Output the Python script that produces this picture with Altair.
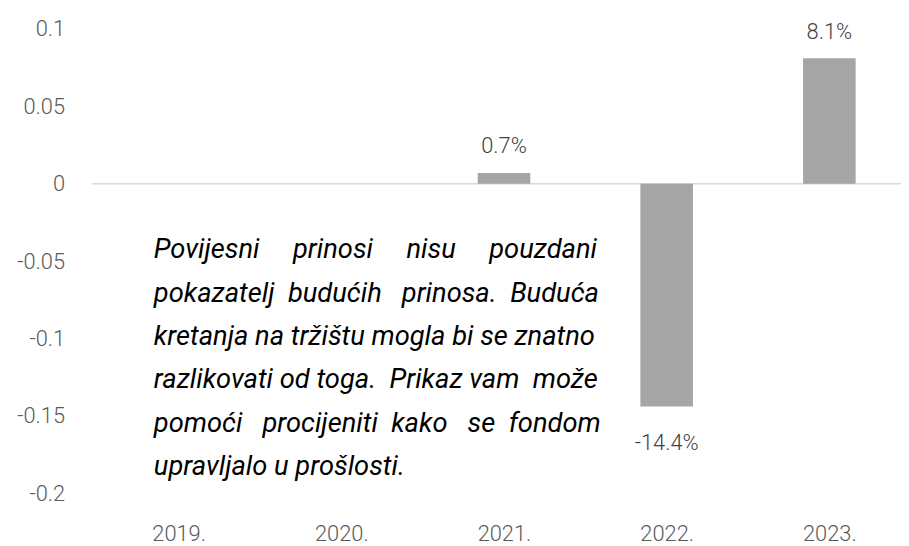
import json
import altair as alt
import pandas as pd

years = ["2019.", "2020.", "2021.", "2022.", "2023."]
returns = [None, None, 0.007, -0.144, 0.081]
y_ticks = [-0.2, -0.15, -0.1, -0.05, 0, 0.05, 0.1]
NB = "\u00a0"
note_lines = [
    "Povijesni" + NB * 4 + " prinosi" + NB * 4 + " nisu" + NB * 4 + " pouzdani",
    "pokazatelj" + NB + " budućih" + NB * 2 + " prinosa." + NB + " Buduća",
    "kretanja na tržištu mogla bi se znatno",
    "razlikovati od toga." + NB + " Prikaz vam" + NB + " može",
    "pomoći" + NB * 2 + " procijeniti" + NB + " kako" + NB * 2 + " se" + NB + " fondom",
    "upravljalo u prošlosti.",
]

FONT = "Roboto"
df = pd.DataFrame({"year": years, "idx": list(range(len(years))), "ret": returns})

x_scale = alt.Scale(domain=[-0.5, 4.41], nice=False, zero=False)
x_enc = alt.X(
    "idx:Q",
    scale=x_scale,
    axis=alt.Axis(title=None, values=list(range(len(years))), grid=False,
                  labelAngle=0, domain=False, ticks=False,
                  labelExpr=json.dumps(years) + "[datum.value]",
                  labelPadding=48, labelFontSize=22, labelColor="#595959",
                  labelFont=FONT, labelBaseline="alphabetic", labelFontWeight=300,
                  labelFlush=False, labelOverlap=False),
)
y_scale = alt.Scale(domain=[-0.2, 0.1], nice=False, zero=False)
y_enc = alt.Y(
    "ret:Q",
    scale=y_scale,
    axis=alt.Axis(title=None, values=y_ticks, grid=False, domain=False, ticks=False,
                  labelPadding=28, labelExpr="toString(datum.value)",
                  labelFontSize=22, labelColor="#595959", labelFont=FONT,
                  labelFontWeight=300, labelFlush=False, labelOverlap=False),
)

base = alt.Chart(df)

zero_rule = alt.Chart(pd.DataFrame({"z": [0.0]})).mark_rule(
    color="#d9d9d9", strokeWidth=1.5
).encode(y=alt.Y("z:Q", scale=y_scale))

bars = base.mark_bar(color="#a5a5a5", size=53).encode(x=x_enc, y=y_enc, y2=alt.datum(0))

lbl_expr = "replace(format(datum.ret, '.1%'), '\u2212', '-')"
pos_lbl = base.transform_filter("datum.ret > 0").transform_calculate(lbl=lbl_expr).mark_text(
    dy=-20, baseline="alphabetic", fontSize=22, color="#404040", font=FONT, fontWeight=300
).encode(x=x_enc, y=y_enc, text="lbl:N")
neg_lbl = base.transform_filter("datum.ret < 0").transform_calculate(lbl=lbl_expr).mark_text(
    dy=44, baseline="alphabetic", fontSize=22, color="#404040", font=FONT, fontWeight=300
).encode(x=x_enc, y=y_enc, text="lbl:N")

note = alt.Chart(pd.DataFrame({"a": [0]})).mark_text(
    text=note_lines, align="left", baseline="alphabetic", fontSize=27.5,
    fontStyle="italic", font=FONT, color="#000000", lineHeight=43.7,
).encode(x=alt.value(62), y=alt.value(231))

chart = alt.layer(zero_rule, bars, pos_lbl, neg_lbl, note).properties(
    width=815, height=468,
    autosize=alt.AutoSizeParams(type="none"),
    padding={"left": 85, "top": 19, "right": 0, "bottom": 51},
).configure_view(stroke=None)

chart.save("out.html", embed_options={"renderer": "svg", "actions": False})
